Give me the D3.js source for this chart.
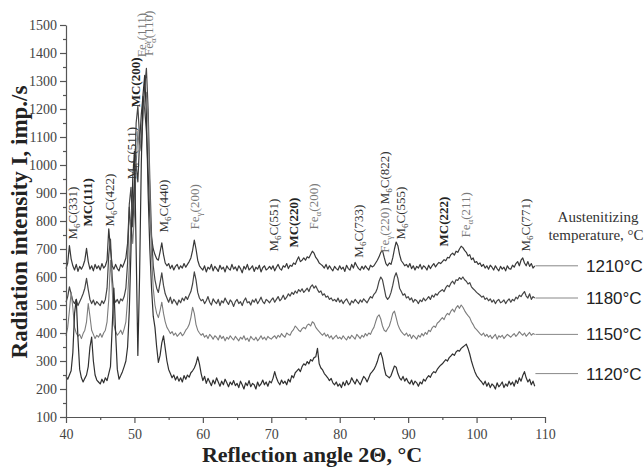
<!DOCTYPE html>
<html><head><meta charset="utf-8">
<script src="https://cdn.jsdelivr.net/npm/d3@7"></script>
<style>html,body{margin:0;padding:0;background:#fff;}svg{display:block;}</style>
</head><body>
<svg id="chart" width="644" height="467"></svg>
<script>
// ---- data ----
const scanStart = 40, scanStep = 0.25; // measurement grid, 2θ in degrees
const temps = ["1210°C", "1180°C", "1150°C", "1120°C"];
const int1210 = [
630,650,712,665,640,625,645,620,638,628,640,660,702,655,628,640,622,645,630,640,
625,648,632,640,660,772,700,640,628,645,630,622,645,635,650,668,720,850,760,820,
950,1000,940,1080,1180,1245,1200,1120,980,820,740,700,680,665,660,690,722,680,650,640,
648,630,642,625,638,645,628,640,632,648,635,645,655,668,695,732,700,660,640,632,
625,640,618,635,628,645,622,638,630,620,642,628,635,618,640,630,625,645,628,636,
622,640,630,615,638,628,645,625,632,640,620,635,628,642,618,633,640,625,630,638,
628,640,622,635,645,630,625,640,635,648,630,642,638,650,645,660,672,655,660,668,
660,672,668,680,692,685,670,662,650,645,640,632,645,628,640,630,622,638,630,625,
640,628,635,620,642,630,625,645,632,652,640,630,625,638,628,640,632,625,642,636,
640,650,660,672,688,695,670,648,640,650,645,668,700,725,712,680,658,650,640,645,
635,648,630,640,625,638,632,645,628,640,635,625,642,630,640,648,636,645,652,648,
655,662,658,670,668,680,685,678,692,688,700,710,705,695,688,675,680,662,668,652,
655,645,650,638,645,632,640,628,642,635,625,640,630,622,638,628,635,622,640,630,
628,642,635,648,655,640,660,668,650,640,655,638,648,632,640];
const int1180 = [
510,530,565,540,515,505,520,498,512,525,540,560,595,555,520,505,518,500,512,505,
498,515,505,520,560,680,735,600,525,510,520,505,522,515,530,560,650,860,920,780,
900,1150,1210,1100,1050,1180,1280,1345,1200,950,750,640,590,560,545,580,615,570,540,525,
510,528,505,520,512,500,518,508,525,515,530,520,535,548,575,618,590,545,525,515,
520,505,515,530,510,500,522,512,505,520,498,515,508,525,512,502,518,510,495,512,
520,505,512,498,515,525,508,512,500,518,510,522,505,515,528,512,505,520,515,508,
518,525,510,520,530,515,522,535,520,528,540,532,545,538,550,542,555,548,558,545,
552,560,548,565,572,560,568,555,545,550,535,540,528,532,520,525,515,520,512,525,
510,518,505,515,522,510,500,515,508,520,512,505,518,510,522,515,508,520,530,525,
538,545,560,585,600,590,560,530,520,528,545,570,600,615,595,560,548,535,540,525,
530,518,525,510,520,515,505,518,512,525,515,522,530,520,535,528,540,535,545,550,
555,548,562,570,565,578,585,575,590,588,598,592,600,590,585,575,580,565,558,552,
545,540,535,528,532,520,525,515,522,510,518,505,515,520,508,512,518,505,515,522,
510,520,515,528,522,535,530,540,548,532,525,540,520,530,525];
const int1150 = [
390,420,480,545,490,420,400,388,395,380,398,410,440,505,460,410,395,380,392,385,
398,385,400,410,440,520,660,560,430,405,392,400,410,395,415,440,520,640,800,720,
820,1000,1120,1050,1100,1180,1230,1260,1150,900,680,560,500,470,455,480,510,470,440,420,
410,398,405,392,400,388,395,402,390,398,410,418,430,455,492,470,430,410,400,392,
398,385,392,380,395,388,378,390,385,375,392,380,388,372,385,378,390,382,375,388,
380,372,385,378,390,375,382,370,388,380,375,385,372,380,390,378,385,375,388,382,
378,385,390,380,392,385,398,390,385,400,395,392,405,412,425,418,410,405,415,420,
415,428,432,425,440,435,420,412,405,398,392,400,388,395,382,390,378,385,392,380,
385,378,390,382,375,388,380,392,385,378,395,388,380,392,385,398,390,400,395,410,
420,440,458,465,450,425,410,405,415,425,445,470,478,455,430,415,405,398,392,400,
388,395,380,392,385,378,392,385,398,390,402,395,410,405,418,425,420,435,440,448,
455,448,462,470,465,478,485,475,490,498,488,500,492,480,470,462,455,440,430,418,
412,405,398,392,400,388,395,385,392,380,388,395,378,390,385,392,380,388,395,390,
385,392,398,388,395,405,398,392,400,388,395,402,392,398,395];
const int1120 = [
245,235,250,265,330,470,520,380,270,240,225,238,250,280,350,385,300,250,232,225,
218,235,222,240,230,255,280,420,560,400,270,235,248,262,280,300,350,480,700,950,
1050,700,320,600,1000,1250,1320,1180,900,700,560,460,420,350,295,320,365,390,345,300,
270,255,240,250,232,245,228,240,225,248,235,250,242,258,265,275,290,315,290,255,
230,245,220,238,225,212,232,218,240,225,210,228,215,235,222,208,225,215,230,212,
220,205,228,215,200,222,212,230,208,220,215,200,225,210,218,232,215,225,210,228,
222,238,262,240,225,215,232,220,228,215,235,225,248,240,258,265,272,262,280,290,
285,298,290,305,300,312,315,345,290,275,268,255,248,240,230,238,222,215,225,210,
218,205,225,212,230,215,222,240,228,218,235,225,215,230,245,238,225,240,255,262,
270,282,298,320,330,310,275,250,245,240,248,265,282,278,255,240,232,245,228,238,
225,218,232,215,228,222,210,225,218,235,228,240,248,242,255,262,258,270,278,285,
290,298,305,300,312,318,325,320,332,338,335,345,350,355,360,345,325,300,280,262,
248,240,232,225,215,228,210,222,205,218,212,200,222,208,215,225,205,218,210,228,
215,225,210,232,220,240,228,248,262,240,225,235,215,228,210];
const seriesValues = [int1210, int1180, int1150, int1120];
const legendLevels = [640, 525, 395, 255];  // end level of each curve
const xTicks = [40, 50, 60, 70, 80, 90, 100, 110];
const yTicks = [100,200,300,400,500,600,700,800,900,1000,1100,1200,1300,1400,1500];

// peak labels: [prefix, subscript, rest, kind]
const peakLabelParts = [
  [["M","6","C(331)","m"]],
  [["MC(111)","","","b"]],
  [["M","6","C(422)","m"]],
  [["M","6","C(511)","m"]],
  [["MC(200)","","","b"]],
  [["Fe","γ","(111)","f"]],
  [["Fe","α","(110)","f"]],
  [["M","6","C(440)","m"]],
  [["Fe","γ","(200)","f"]],
  [["M","6","C(551)","m"]],
  [["MC(220)","","","b"]],
  [["Fe","α","(200)","f"]],
  [["M","6","C(733)","m"]],
  [["Fe","γ","(220) ","f"],["M","6","C(822)","m"]],
  [["M","6","C(555)","m"]],
  [["MC(222)","","","b"]],
  [["Fe","α","(211)","f"]],
  [["M","6","C(771)","m"]]
];
const peakLabelAngle = [40.9,43.2,46.4,49.5,50.2,51.05,52.0,54.3,58.7,70.25,73.3,76.1,82.8,86.6,88.9,95.1,98.3,107.2];
const peakLabelLevel = [734,780,780,949,1206,1385,1389,759,770,691,705,770,669,687,734,709,741,691];

// ---- drawing ----
const svg = d3.select("#chart");
const serif = "'Liberation Serif','Times New Roman',serif";
const sans = "'Liberation Sans',Arial,sans-serif";
const x = d3.scaleLinear().domain([40, 110]).range([66, 545]);
const y = d3.scaleLinear().domain([100, 1500]).range([417, 25]);

const seriesColors = ["#383838", "#454545", "#7c7c7c", "#303030"];
const seriesWidths = [1.2, 1.2, 1.1, 1.2];
const line = d3.line().x((d, i) => x(scanStart + i * scanStep)).y(d => y(d));
seriesValues.forEach((vals, k) => {
  svg.append("path").datum(vals).attr("d", line)
    .attr("fill", "none").attr("stroke", seriesColors[k])
    .attr("stroke-width", seriesWidths[k]).attr("stroke-linejoin", "round");
});

// axes
const axisColor = "#555";
const xAxis = d3.axisBottom(x).tickValues(xTicks).tickSize(6).tickSizeOuter(0).tickFormat(d3.format("d"));
const gx = svg.append("g").attr("transform", "translate(0,417)").call(xAxis);
const xMinor = d3.axisBottom(x).tickValues(d3.range(45, 110, 10)).tickSize(3).tickFormat("");
svg.append("g").attr("transform", "translate(0,417)").call(xMinor).select(".domain").remove();
const yAxis = d3.axisLeft(y).tickValues(yTicks).tickSize(6).tickSizeOuter(0).tickFormat(d3.format("d"));
const gy = svg.append("g").attr("transform", "translate(66,0)").call(yAxis);
const yMinor = d3.axisLeft(y).tickValues(d3.range(150, 1500, 100)).tickSize(3).tickFormat("");
svg.append("g").attr("transform", "translate(66,0)").call(yMinor).select(".domain").remove();
svg.selectAll(".domain, .tick line").attr("stroke", axisColor).attr("stroke-width", 1.2);
gx.selectAll("text").attr("font-family", serif).attr("font-size", 14).attr("fill", "#444").attr("dy", "0.95em");
gy.selectAll("text").attr("font-family", serif).attr("font-size", 14).attr("fill", "#444").attr("dy", "0.35em");

// axis titles
svg.append("text").attr("transform", "translate(27,222) rotate(-90)")
  .attr("text-anchor", "middle").attr("font-family", serif).attr("font-weight", "bold")
  .attr("font-size", 23).attr("fill", "#222").text("Radiation intensity I, imp./s");
svg.append("text").attr("x", 312).attr("y", 462)
  .attr("text-anchor", "middle").attr("font-family", serif).attr("font-weight", "bold")
  .attr("font-size", 22).attr("fill", "#222").text("Reflection angle 2Θ, °C");

// peak labels
const kindStyle = {m: {fill: "#333", weight: "normal"}, b: {fill: "#222", weight: "bold"}, f: {fill: "#7a7a7a", weight: "normal"}};
peakLabelParts.forEach((parts, i) => {
  const t = svg.append("text")
    .attr("transform", `translate(${x(peakLabelAngle[i])},${y(peakLabelLevel[i])}) rotate(-90)`)
    .attr("font-family", serif).attr("font-size", 13).attr("dy", "0.35em");
  parts.forEach(p => {
    const st = kindStyle[p[3]];
    t.append("tspan").attr("fill", st.fill).attr("font-weight", st.weight).text(p[0]);
    if (p[1]) {
      t.append("tspan").attr("fill", st.fill).attr("font-size", 9).attr("dy", 3).text(p[1]);
      t.append("tspan").attr("fill", st.fill).attr("font-weight", st.weight).attr("dy", -3).text(p[2]);
    } else if (p[2]) {
      t.append("tspan").attr("fill", st.fill).text(p[2]);
    }
  });
});

// legend
svg.append("text").attr("x", 598).attr("y", 222).attr("text-anchor", "middle")
  .attr("font-family", serif).attr("font-size", 15).attr("fill", "#333").text("Austenitizing");
svg.append("text").attr("x", 596).attr("y", 240).attr("text-anchor", "middle")
  .attr("font-family", serif).attr("font-size", 15).attr("fill", "#333").text("temperature, °C");
temps.forEach((t, k) => {
  const yy = y(legendLevels[k]);
  svg.append("line").attr("x1", x(108.6)).attr("x2", 578).attr("y1", yy).attr("y2", yy)
    .attr("stroke", "#888").attr("stroke-width", 1);
  svg.append("text").attr("x", 586).attr("y", yy).attr("dy", "0.35em")
    .attr("font-family", sans).attr("font-size", 17).attr("fill", "#222").text(t);
});
</script>
</body></html>
